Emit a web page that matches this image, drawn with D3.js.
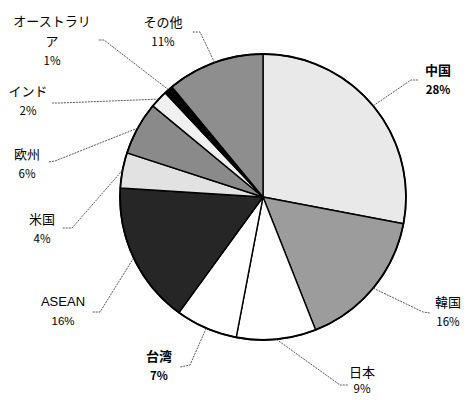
<!DOCTYPE html>
<html><head><meta charset="utf-8">
<script src="https://cdn.jsdelivr.net/npm/d3@7"></script>
<style>body{margin:0;background:#fff}svg{display:block}</style>
</head><body>
<script>
// ---- data ----
const regions = ["中国","韓国","日本","台湾","ASEAN","米国","欧州","インド","オーストラリア","その他"];
const shares  = [28, 16, 9, 7, 16, 4, 6, 2, 1, 11];
const labelLines = [["中国","28%"],["韓国","16%"],["日本","9%"],["台湾","7%"],["ASEAN","16%"],["米国","4%"],["欧州","6%"],["インド","2%"],["オーストラリ","ア","1%"],["その他","11%"]];
const boldLabels = ["中国","台湾"];

// ---- layout (label anchors and leader elbows) ----
const fills = ["#e9e9e9","#9c9c9c","#ffffff","#ffffff","#262626","#e2e2e2","#8a8a8a","#f0f0f0","#000000","#8e8e8e"];
const labelXY = [[438,75],[448,307],[362,377],[159,361],[63,306],[42,224],[27,159],[28,96],[52,26],[163,27]];
const pctGap = [19,19,16,19,19,19,19,19,19,19];
const elbows = [[[411,80],[418,80]],[[423,312],[430,313]],[[340,385],[348,385]],[[190,365],[180,367]],
                [[100,312],[92,312]],[[72,228],[62,228]],[[55,161],[48,162]],[[60,103],[52,103]],
                [[104,40],[98,40]],[[200,32],[192,32]]];

const W=468,H=400,cx=263,cy=197,R=143;
const svg=d3.select("body").append("svg").attr("width",W).attr("height",H);
const g=svg.append("g").attr("transform",`translate(${cx},${cy})`);

const pie=d3.pie().sort(null).value(d=>d)(shares);
const arc=d3.arc().innerRadius(0).outerRadius(R);

g.selectAll("path.slice").data(pie).join("path").attr("class","slice")
  .attr("d",arc).attr("fill",(d,i)=>fills[i]).attr("stroke","#000").attr("stroke-width",1.4)
  .attr("stroke-linejoin","round");
g.append("circle").attr("r",R).attr("fill","none").attr("stroke","#000").attr("stroke-width",1.8);

// leaders
const lineGen=d3.line();
pie.forEach((d,i)=>{
  const a=(d.startAngle+d.endAngle)/2;
  const p0=[cx+R*Math.sin(a),cy-R*Math.cos(a)];
  svg.append("path").attr("d",lineGen([p0,...elbows[i]]))
    .attr("fill","none").attr("stroke","#444").attr("stroke-width",0.9).attr("stroke-dasharray","2,1");
});

// labels
labelLines.forEach((lines,i)=>{
  const bold=boldLabels.includes(regions[i]);
  const t=svg.append("text").attr("x",labelXY[i][0]).attr("y",labelXY[i][1])
    .attr("text-anchor","middle").attr("fill","#000")
    .style("font-family", regions[i]==="ASEAN" ? "'Liberation Sans','Noto Sans CJK JP',sans-serif" : "'Noto Sans CJK JP',sans-serif")
    .style("font-size","13px").style("font-weight",bold?"bold":"normal");
  lines.forEach((s,j)=>{
    const isPct=j===lines.length-1;
    t.append("tspan").attr("x",labelXY[i][0]).attr("dy",j===0?0:(isPct?pctGap[i]:20))
      .style("font-size",isPct?"11.5px":"13px").text(s);
  });
});
</script>
</body></html>
